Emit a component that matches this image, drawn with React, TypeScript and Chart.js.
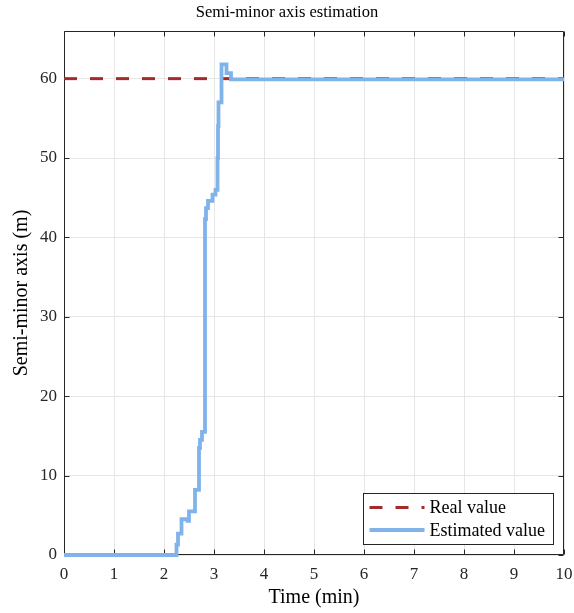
import { useEffect, useRef } from 'react';
import { Chart, registerables } from 'chart.js';

Chart.register(...registerables);

const chartTitle = 'Semi-minor axis estimation';
const xAxisLabel = 'Time (min)';
const yAxisLabel = 'Semi-minor axis (m)';
const seriesNames = ['Real value', 'Estimated value'];

const xTicks = [0, 1, 2, 3, 4, 5, 6, 7, 8, 9, 10];
const yTicks = [0, 10, 20, 30, 40, 50, 60];

const realTime = [0, 10];
const realValue = [60, 60];

// step-wise estimate: at each time the value changes to the listed value
const estTime = [
  0, 2.25, 2.28, 2.35, 2.47, 2.5, 2.62, 2.7, 2.72, 2.76, 2.82, 2.84, 2.88, 2.97,
  3.03, 3.07, 3.08, 3.09, 3.15, 3.25, 3.34, 10,
];
const estValue = [
  0, 1.3, 2.7, 4.5, 4.3, 5.5, 8.2, 13.5, 14.5, 15.5, 42.3, 43.7, 44.6, 45.4,
  46.0, 50, 54, 57, 61.8, 60.7, 59.9, 59.9,
];

const FONT = "'Liberation Serif', 'Times New Roman', serif";
const AXIS_COLOR = '#262626';
const RED = '#A52A2A';
const BLUE = '#80B3EA';

const framePlugin = {
  id: 'frame',
  beforeDatasetsDraw(chart: any) {
    const { ctx, chartArea, scales } = chart;
    const l = Math.round(chartArea.left) + 0.5;
    const r = Math.round(chartArea.right) - 0.5;
    const t = Math.round(chartArea.top) + 0.5;
    const b = Math.round(chartArea.bottom) - 0.5;
    ctx.save();
    ctx.strokeStyle = AXIS_COLOR;
    ctx.lineWidth = 1;
    ctx.beginPath();
    ctx.moveTo(l, t);
    ctx.lineTo(r, t);
    ctx.lineTo(r, b);
    ctx.lineTo(l, b);
    ctx.closePath();
    const tl = 5;
    xTicks.forEach((v) => {
      const px = Math.round(scales.x.getPixelForValue(v)) + 0.5;
      ctx.moveTo(px, b);
      ctx.lineTo(px, b - tl);
      ctx.moveTo(px, t);
      ctx.lineTo(px, t + tl);
    });
    yTicks.forEach((v) => {
      const py = Math.round(scales.y.getPixelForValue(v)) + 0.5;
      ctx.moveTo(l, py);
      ctx.lineTo(l + tl, py);
      ctx.moveTo(r, py);
      ctx.lineTo(r - tl, py);
    });
    ctx.stroke();
    ctx.restore();
  },
};

const legendPlugin = {
  id: 'boxLegend',
  afterDraw(chart: any) {
    const { ctx, chartArea } = chart;
    const w = 190;
    const h = 51;
    const bx = Math.round(chartArea.right) - 11 - w + 0.5;
    const by = Math.round(chartArea.bottom) - 11 - h + 0.5;
    ctx.save();
    ctx.fillStyle = '#ffffff';
    ctx.fillRect(bx, by, w, h);
    ctx.strokeStyle = AXIS_COLOR;
    ctx.lineWidth = 1;
    ctx.strokeRect(bx, by, w, h);
    const rows = [
      { y: by + 14, color: RED, dash: [13, 13], label: seriesNames[0] },
      { y: by + 36.5, color: BLUE, dash: [], label: seriesNames[1] },
    ];
    rows.forEach((row) => {
      ctx.beginPath();
      ctx.setLineDash(row.dash);
      ctx.strokeStyle = row.color;
      ctx.lineWidth = row.dash.length ? 3 : 3.8;
      ctx.moveTo(bx + 6, row.y);
      ctx.lineTo(bx + 61, row.y);
      ctx.stroke();
      ctx.setLineDash([]);
      ctx.fillStyle = '#000000';
      ctx.font = `18px ${FONT}`;
      ctx.textBaseline = 'middle';
      ctx.textAlign = 'left';
      ctx.fillText(row.label, bx + 66, row.y + 1);
    });
    ctx.restore();
  },
};

export default function App() {
  const canvasRef = useRef<HTMLCanvasElement | null>(null);

  useEffect(() => {
    document.body.style.margin = '0';
    const canvas = canvasRef.current;
    if (!canvas) return;
    const chart = new Chart(canvas, {
      type: 'line',
      data: {
        datasets: [
          {
            label: seriesNames[1],
            data: estTime.map((t, i) => ({ x: t, y: estValue[i] })),
            borderColor: BLUE,
            borderWidth: 3.8,
            pointRadius: 0,
            stepped: 'before',
            order: 0,
            clip: 4,
          },
          {
            label: seriesNames[0],
            data: realTime.map((t, i) => ({ x: t, y: realValue[i] })),
            borderColor: RED,
            borderWidth: 3,
            borderDash: [13, 13],
            pointRadius: 0,
            tension: 0,
            order: 1,
          },
        ],
      },
      options: {
        animation: false,
        responsive: true,
        maintainAspectRatio: false,
        layout: { padding: { left: 10, right: 10, top: 0, bottom: 0 } },
        plugins: {
          legend: { display: false },
          tooltip: { enabled: false },
          title: {
            display: true,
            text: chartTitle,
            color: '#000000',
            font: { family: FONT, size: 16.5, weight: 'normal' },
            padding: { top: 3, bottom: 8.2 },
          },
        },
        scales: {
          x: {
            type: 'linear',
            min: 0,
            max: 10,
            afterFit: (s: any) => {
              s.height = 58;
              s.paddingLeft = 0;
              s.paddingRight = 0;
            },
            afterBuildTicks: (s: any) => {
              s.ticks = xTicks.map((v) => ({ value: v }));
            },
            ticks: {
              color: AXIS_COLOR,
              font: { family: FONT, size: 17 },
              padding: 9,
              maxRotation: 0,
              autoSkip: false,
            },
            grid: { color: '#e6e6e6', drawTicks: false },
            border: { display: false },
            title: {
              display: true,
              text: xAxisLabel,
              color: '#000000',
              font: { family: FONT, size: 20 },
              padding: { top: 0, bottom: 3 },
            },
          },
          y: {
            type: 'linear',
            min: 0,
            max: 66,
            afterFit: (s: any) => {
              s.width = 54;
              s.paddingTop = 0;
              s.paddingBottom = 0;
            },
            afterBuildTicks: (s: any) => {
              s.ticks = yTicks.map((v) => ({ value: v }));
            },
            ticks: {
              color: AXIS_COLOR,
              font: { family: FONT, size: 17 },
              padding: 7,
              autoSkip: false,
            },
            grid: { color: '#e6e6e6', drawTicks: false },
            border: { display: false },
            title: {
              display: true,
              text: yAxisLabel,
              color: '#000000',
              font: { family: FONT, size: 20 },
              padding: { top: 0, bottom: 0 },
            },
          },
        },
      },
      plugins: [framePlugin, legendPlugin],
    });
    return () => chart.destroy();
  }, []);

  return (
    <div style={{ width: 574, height: 613, position: 'relative' }}>
      <canvas ref={canvasRef} />
    </div>
  );
}
